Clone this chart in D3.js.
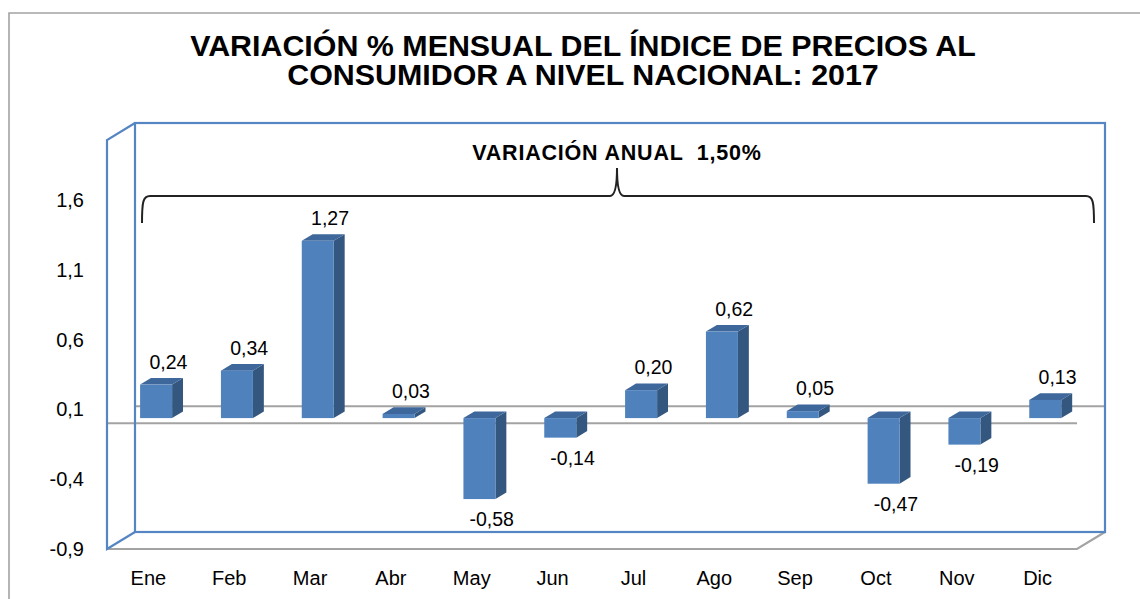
<!DOCTYPE html>
<html><head><meta charset="utf-8">
<script src="https://cdn.jsdelivr.net/npm/d3@7"></script>
<style>body{margin:0;background:#fff}svg{display:block}text{font-family:"Liberation Sans",Arial,sans-serif}</style>
</head><body><svg id="c" width="1140" height="599"></svg>
<script>
const categories = ["Ene","Feb","Mar","Abr","May","Jun","Jul","Ago","Sep","Oct","Nov","Dic"];
const values = [0.24,0.34,1.27,0.03,-0.58,-0.14,0.20,0.62,0.05,-0.47,-0.19,0.13];
const valueLabels = ["0,24","0,34","1,27","0,03","-0,58","-0,14","0,20","0,62","0,05","-0,47","-0,19","0,13"];
const tickValues = [-0.9,-0.4,0.1,0.6,1.1,1.6];
const tickLabels = ["-0,9","-0,4","0,1","0,6","1,1","1,6"];
const titleLines = ["VARIACIÓN % MENSUAL DEL ÍNDICE DE PRECIOS AL","CONSUMIDOR A NIVEL NACIONAL: 2017"];
const annotation = "VARIACIÓN ANUAL  1,50%";

const svg = d3.select("#c");
const DX = 28, DY = -17; // depth vector (front plane -> back wall)
const x = d3.scaleBand().domain(categories).range([107,1077]);
const y = d3.scaleLinear().domain([-0.9,2.03]).range([549,140]);
const yTop = y.domain()[1], yMin = y.domain()[0];
const blue = "#5585c2", gray = "#a3a3a3";

// outer frame
svg.append("path").attr("d","M9,599V13H1140").attr("fill","none").attr("stroke",gray).attr("stroke-width",1.6);

// title
svg.append("g").selectAll("text").data(titleLines).join("text")
  .attr("x",583).attr("y",(d,i)=>56+i*29).attr("text-anchor","middle")
  .attr("font-size",30.4).attr("font-weight","bold").attr("fill","#000").text(d=>d);

// walls
const xl = x.range()[0], xr = x.range()[1];
const g = svg.append("g");
g.append("line").attr("x1",xl+DX).attr("x2",xr+DX).attr("y1",y(0)+DY).attr("y2",y(0)+DY).attr("stroke",gray).attr("stroke-width",2);
g.append("line").attr("x1",xl).attr("x2",xr).attr("y1",y(0)).attr("y2",y(0)).attr("stroke",gray).attr("stroke-width",2);
g.append("path").attr("d",`M${xl},${y(yMin)}H${xr}L${xr+DX},${y(yMin)+DY}`).attr("fill","none").attr("stroke",gray).attr("stroke-width",2.2);
g.append("rect").attr("x",xl+DX).attr("y",y(yTop)+DY).attr("width",xr-xl).attr("height",y(yMin)-y(yTop))
  .attr("fill","none").attr("stroke",blue).attr("stroke-width",2.2);
g.append("path").attr("d",`M${xl+DX},${y(yTop)+DY}L${xl},${y(yTop)}V${y(yMin)}L${xl+DX},${y(yMin)+DY}`)
  .attr("fill","none").attr("stroke",blue).attr("stroke-width",2.2);

// y axis labels
svg.append("g").selectAll("text").data(tickValues).join("text")
  .attr("x",84).attr("y",d=>y(d)+7).attr("text-anchor","end").attr("font-size",20).attr("fill","#000")
  .text((d,i)=>tickLabels[i]);

// category labels
svg.append("g").selectAll("text").data(categories).join("text")
  .attr("x",d=>x(d)+x.bandwidth()/2+1).attr("y",585).attr("text-anchor","middle").attr("font-size",20).attr("fill","#000").text(d=>d);

// bars
const d0 = 0.31, d1 = 0.39, bw = 32;
const bars = svg.append("g").selectAll("g").data(values).join("g");
function geo(v,i){
  const cx = x(categories[i]) + x.bandwidth()/2 + DX*d0;
  const l = cx - bw/2, r = cx + bw/2;
  const t = Math.min(y(v),y(0)) + DY*d0, b = Math.max(y(v),y(0)) + DY*d0;
  return {l,r,t,b,ddx:DX*d1,ddy:DY*d1};
}
bars.append("path").attr("fill","#34577f").attr("d",(v,i)=>{const q=geo(v,i);
  return `M${q.r},${q.t}L${q.r+q.ddx},${q.t+q.ddy}L${q.r+q.ddx},${q.b+q.ddy}L${q.r},${q.b}Z`;});
bars.append("path").attr("fill","#3e679b").attr("d",(v,i)=>{const q=geo(v,i);
  return `M${q.l},${q.t}L${q.r},${q.t}L${q.r+q.ddx},${q.t+q.ddy}L${q.l+q.ddx},${q.t+q.ddy}Z`;});
bars.append("rect").attr("fill","#4f81bd")
  .attr("x",(v,i)=>geo(v,i).l).attr("y",(v,i)=>geo(v,i).t).attr("width",bw).attr("height",(v,i)=>geo(v,i).b-geo(v,i).t);

// data labels
svg.append("g").selectAll("text").data(values).join("text")
  .attr("x",(v,i)=>x(categories[i])+x.bandwidth()/2+21)
  .attr("y",(v,i)=>{const q=geo(v,i); return v>=0 ? q.t-16 : q.b+27;})
  .attr("text-anchor","middle").attr("font-size",19.5).attr("fill","#000").text((v,i)=>valueLabels[i]);

// brace + annotation
const bl = 142, br = 1094, bc = 617, by = 196, bTop = 168, bEnd = 223;
svg.append("path").attr("fill","none").attr("stroke","#222").attr("stroke-width",2)
  .attr("d",`M${bl},${bEnd}C${bl},${by+6} ${bl+1},${by} ${bl+8},${by}H${bc-7}C${bc-2},${by} ${bc},${by-10} ${bc},${bTop}`+
            `C${bc},${by-10} ${bc+2},${by} ${bc+7},${by}H${br-8}C${br-1},${by} ${br},${by+6} ${br},${bEnd}`);
svg.append("text").attr("x",bc).attr("y",160).attr("text-anchor","middle").attr("font-size",21.5).attr("font-weight","bold")
  .attr("letter-spacing",0.8).attr("xml:space","preserve").style("white-space","pre").text(annotation);
</script></body></html>
